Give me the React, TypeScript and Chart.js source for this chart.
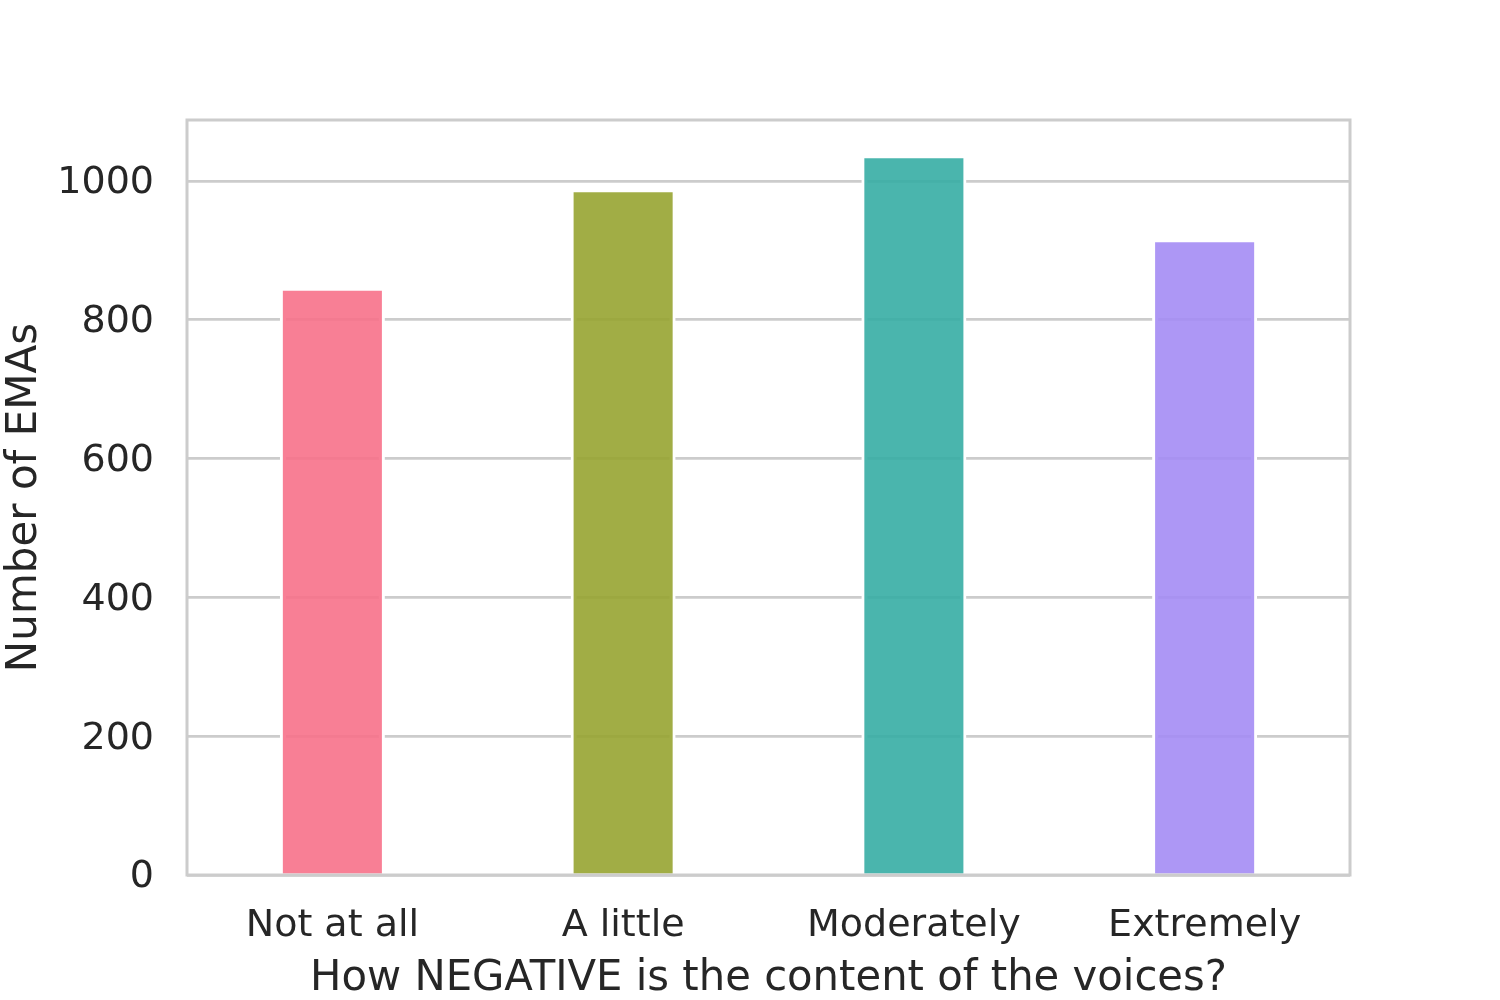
import React, { useEffect, useRef } from "react";
import { Chart, registerables } from "chart.js";

Chart.register(...registerables);

const categories = ["Not at all", "A little", "Moderately", "Extremely"];
const counts = [844, 986, 1035, 914];
const barColors = [
  "rgba(247,113,137,0.9)",
  "rgba(151,164,49,0.9)",
  "rgba(54,173,164,0.9)",
  "rgba(164,140,244,0.9)",
];
const yTicks = [0, 200, 400, 600, 800, 1000];
const yMax = 1088;
const xTitle = "How NEGATIVE is the content of the voices?";
const yTitle = "Number of EMAs";

const FONT = "'DejaVu Sans', 'Liberation Sans', sans-serif";
const TEXT = "#262626";
const GRID = "#cccccc";

const framePlugin = {
  id: "frame",
  afterDatasetsDraw(chart: any) {
    const { ctx, chartArea } = chart;
    const { left, right, top, bottom } = chartArea;
    ctx.save();
    ctx.strokeStyle = GRID;
    ctx.lineWidth = 3;
    ctx.strokeRect(left, top, right - left, bottom - top);
    ctx.restore();
  },
};

export default function App() {
  const ref = useRef<HTMLCanvasElement | null>(null);

  useEffect(() => {
    if (!ref.current) return;
    const chart = new Chart(ref.current, {
      type: "bar",
      data: {
        labels: categories,
        datasets: [
          {
            data: counts,
            backgroundColor: barColors,
            borderColor: "#ffffff",
            borderWidth: 3,
            borderSkipped: "start",
            inflateAmount: 1.5,
            barPercentage: 0.351,
            categoryPercentage: 1,
          } as any,
        ],
      },
      options: {
        animation: false,
        responsive: false,
        devicePixelRatio: 1,
        layout: { padding: { top: 120, right: 150, left: 0, bottom: 0 } },
        plugins: {
          legend: { display: false },
          tooltip: { enabled: false },
        },
        scales: {
          x: {
            grid: { display: false, drawTicks: false },
            border: { display: false },
            ticks: {
              color: TEXT,
              padding: 28,
              font: { family: FONT, size: 38 },
              maxRotation: 0,
            },
            title: {
              display: true,
              text: xTitle,
              color: TEXT,
              font: { family: FONT, size: 41.75, lineHeight: 1.02 },
              padding: 0,
            },
            afterFit: (s: any) => {
              s.height = 125;
            },
          },
          y: {
            min: 0,
            max: yMax,
            grid: { color: GRID, lineWidth: 2.8, drawTicks: false },
            border: { display: false },
            ticks: {
              color: TEXT,
              padding: 33,
              labelOffset: 2.5,
              font: { family: FONT, size: 38 },
              callback: (v: any) => String(v),
            },
            afterBuildTicks: (s: any) => {
              s.ticks = yTicks.map((v) => ({ value: v }));
            },
            title: {
              display: true,
              text: yTitle,
              color: TEXT,
              font: { family: FONT, size: 42 },
              padding: 0,
            },
            afterFit: (s: any) => {
              s.width = 187;
            },
          },
        },
      },
      plugins: [framePlugin],
    });
    return () => chart.destroy();
  }, []);

  return (
    <div style={{ position: "absolute", left: 0, top: 0, width: 1500, height: 1000, background: "#ffffff" }}>
      <canvas ref={ref} width={1500} height={1000} style={{ width: 1500, height: 1000, display: "block" }} />
    </div>
  );
}
